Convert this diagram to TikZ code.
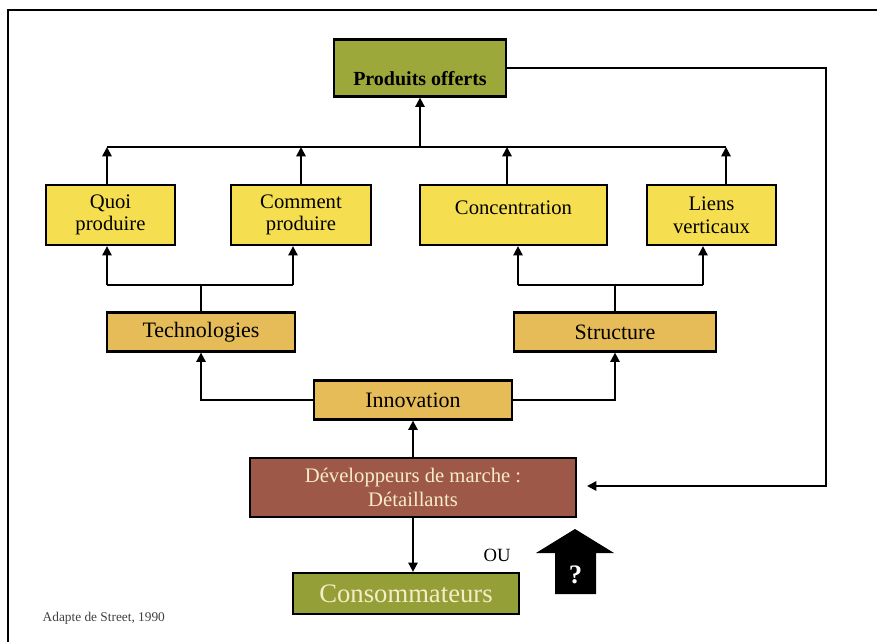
\documentclass[tikz,border=0pt]{standalone}
\usepackage{fontspec}
\setmainfont{Liberation Serif}
\usetikzlibrary{arrows.meta}
\definecolor{olive}{RGB}{156,168,58}
\definecolor{yellowbox}{RGB}{245,223,80}
\definecolor{goldbox}{RGB}{230,188,88}
\definecolor{brownbox}{RGB}{158,88,72}
\definecolor{cream}{RGB}{246,236,200}
\tikzset{
  basebox/.style={draw=black, line width=1.7pt, align=center, inner sep=1pt},
  sz/.style 2 args={minimum width=#1*0.75pt, minimum height=#2*0.75pt},
  prodbox/.style={basebox, fill=olive, font=\fontsize{15}{17}\selectfont\bfseries},
  yelbox/.style={basebox, fill=yellowbox, font=\fontsize{15.5}{17}\selectfont},
  goldbx/.style={basebox, fill=goldbox, font=\fontsize{16.5}{19}\selectfont},
  devbox/.style={basebox, fill=brownbox, text=cream, font=\fontsize{15.5}{18}\selectfont},
  consbox/.style={basebox, fill=olive!95!black, text=cream, font=\fontsize{20}{22}\selectfont},
  conn/.style={line width=1.4pt, draw=black},
  arr/.style={conn, -{Triangle[length=7pt,width=7pt]}},
}
\begin{document}
\begin{tikzpicture}[x=0.75pt, y=-0.75pt]
\useasboundingbox (0,0) rectangle (877,642);

% frame edges
\draw[line width=1.5pt] (8,642) -- (8,10) -- (877,10);

% boxes
\node[prodbox, sz={172}{57}, text height=28pt, text depth=2.5pt] (produits) at (420,68) {Produits offerts};
\node[yelbox, sz={129}{60}] (quoi) at (110.5,215) {Quoi\\produire};
\node[yelbox, sz={140}{60}] (comment) at (301,215) {Comment\\produire};
\node[yelbox, sz={187}{60}] (concentration) at (513.5,215) {\raisebox{11pt}{Concentration}};
\node[yelbox, sz={129}{60}] (liens) at (711.5,215) {Liens\\verticaux};
\node[goldbx, sz={188}{39}] (tech) at (201,332) {Technologies};
\node[goldbx, sz={202}{39}] (struct) at (615,332) {Structure};
\node[goldbx, sz={198}{39}] (innov) at (413,400) {Innovation};
\node[devbox, sz={326}{59}] (dev) at (413,487.5) {Développeurs de marche :\\Détaillants};
\node[consbox, sz={226}{41}] (conso) at (406,593.5) {Consommateurs};

% upper bus
\coordinate (b1) at (107,147);
\coordinate (b2) at (301,147);
\coordinate (b3) at (507,147);
\coordinate (b4) at (726,147);
\coordinate (bc) at (420,147);
\draw[conn] (b1) -- (b4);
\draw[arr] (b1 |- quoi.north) -- (b1);
\draw[arr] (b2 |- comment.north) -- (b2);
\draw[arr] (b3 |- concentration.north) -- (b3);
\draw[arr] (b4 |- liens.north) -- (b4);
\draw[arr] (bc) -- (produits.south);

% lower buses
\coordinate (t1) at (107,285);
\coordinate (t2) at (293,285);
\coordinate (s1) at (518,285);
\coordinate (s2) at (703,285);
\draw[conn] (t1) -- (t2);
\draw[conn] (s1) -- (s2);
\draw[arr] (t1) -- (t1 |- quoi.south);
\draw[arr] (t2) -- (t2 |- comment.south);
\draw[arr] (s1) -- (s1 |- concentration.south);
\draw[arr] (s2) -- (s2 |- liens.south);
\draw[conn] (tech.north) -- (tech.north |- t1);
\draw[conn] (struct.north) -- (struct.north |- s1);

% innovation links
\draw[arr] (innov.west) -| (tech.south);
\draw[arr] (innov.east) -| (struct.south);
\draw[arr] (dev.north) -- (innov.south);
\draw[arr] (dev.south) -- (dev.south |- conso.north);

% feedback loop
\coordinate (lp1) at (826,68);
\coordinate (lp2) at (826,486);
\coordinate (lp3) at (587,486);
\draw[arr] (produits.east) -- (lp1) -- (lp2) -- (lp3);

% alternative block arrow
\fill[black] (575,529) -- (614,553) -- (596,553) -- (596,594) -- (555,594) -- (555,553) -- (536,553) -- cycle;
\node[text=white, font=\fontsize{20}{22}\selectfont\bfseries] (q) at (575.5,575) {?};
\node[font=\fontsize{14}{16}\selectfont] (ou) at (497,555) {OU};

% source
\node[anchor=west, text=black!75, font=\fontsize{10}{12}\selectfont] (src) at (38,618) {Adapte de Street, 1990};
\end{tikzpicture}
\end{document}
